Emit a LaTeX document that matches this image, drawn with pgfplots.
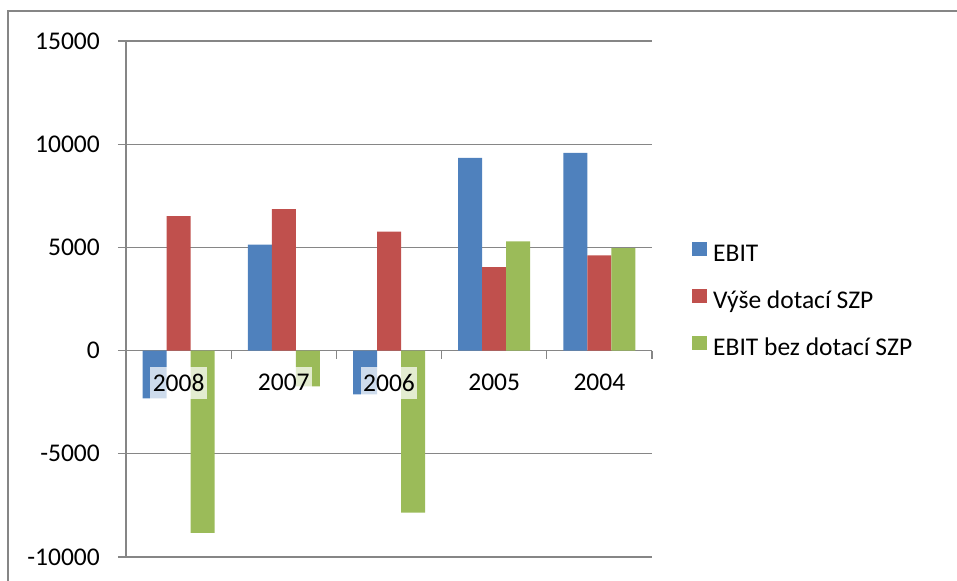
\documentclass[border=0pt]{standalone}
\usepackage{pgfplots}
\pgfplotsset{compat=1.18}
\usepackage{fontspec}
\setmainfont{Carlito}
\definecolor{c1}{HTML}{4F81BD}
\definecolor{c2}{HTML}{C0504D}
\definecolor{c3}{HTML}{9BBB59}
\definecolor{ln}{HTML}{868686}
\tikzset{yearlbl/.style={anchor=north, inner xsep=2.5bp, inner ysep=0pt, minimum height=32bp,
     fill=white, fill opacity=0.72, text opacity=1, yshift=-16bp,
     font=\fontsize{25.5bp}{30bp}\selectfont}}
\begin{document}
\begin{tikzpicture}[x=1bp,y=1bp]
\path[use as bounding box] (0,0) rectangle (957,-581);
\draw[ln, line width=1.3bp] (8,-581) -- (8,-11) -- (957,-11);
\begin{axis}[
  at={(126bp,-557bp)}, anchor=south west,
  scale only axis, width=526bp, height=516bp,
  ybar=0pt, bar width=24bp,
  xmin=-0.5, xmax=4.5, ymin=-10000, ymax=15000,
  axis x line*=middle, axis y line*=left,
  axis line style={ln, line width=1.2bp},
  ytick={-10000,-5000,0,5000,10000,15000},
  xtick={0,1,2,3,4}, xticklabels={},
  minor xtick={-0.5,0.5,1.5,2.5,3.5,4.5},
  ymajorgrids, grid style={ln, line width=1.2bp},
  tick align=outside,
  major tick length=8bp, minor tick length=8bp,
  tick style={ln, line width=1.2bp},
  every major x tick/.append style={draw=none},
  scaled ticks=false,
  /pgf/number format/.cd, 1000 sep={}, assume math mode=true,
  /pgfplots/.cd,
  tick label style={font=\fontsize{25.5bp}{30bp}\selectfont},
  yticklabel style={anchor=east, inner sep=0pt, xshift=-18bp},
  legend style={draw=none, fill=none, at={(1.076,0.495)}, anchor=west,
     inner sep=0pt, column sep=6.5bp, row sep=21bp,
     font=\fontsize{25.5bp}{30bp}\selectfont,
     nodes={inner sep=0pt, text height=17bp, text depth=6bp}},
  legend cell align=left,
  legend image code/.code={\fill[#1] (0bp,0bp) rectangle (14.5bp,14.5bp);},
]
\addplot[fill=c1, draw=none] coordinates {(0,-2310) (1,5130) (2,-2120) (3,9340) (4,9580)};
\addplot[fill=c2, draw=none] coordinates {(0,6520) (1,6860) (2,5760) (3,4050) (4,4610)};
\addplot[fill=c3, draw=none] coordinates {(0,-8835) (1,-1730) (2,-7850) (3,5290) (4,4970)};
\legend{EBIT, Výše dotací SZP, EBIT bez dotací SZP}
\node[yearlbl] at (axis cs:0,0) {2008};
\node[yearlbl] at (axis cs:1,0) {2007};
\node[yearlbl] at (axis cs:2,0) {2006};
\node[yearlbl] at (axis cs:3,0) {2005};
\node[yearlbl] at (axis cs:4,0) {2004};
\end{axis}
\end{tikzpicture}
\end{document}
